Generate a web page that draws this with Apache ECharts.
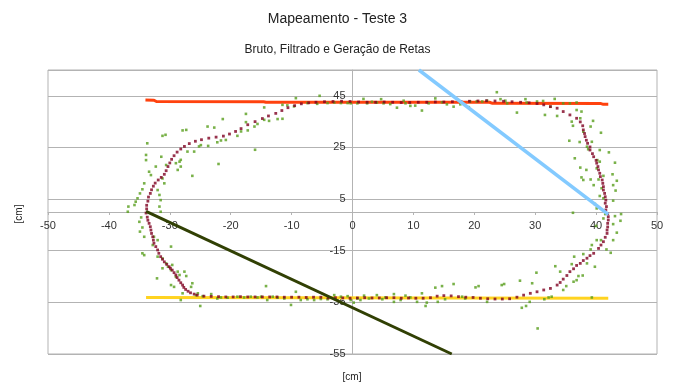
<!DOCTYPE html>
<html><head><meta charset="utf-8">
<script src="https://cdn.jsdelivr.net/npm/echarts@6/dist/echarts.min.js"></script>
<style>html,body{margin:0;padding:0;background:#fff}#c{width:675px;height:383px}</style>
</head><body><div id="c"></div>
<script>
const titleText = 'Mapeamento - Teste 3';
const subtitleText = 'Bruto, Filtrado e Geração de Retas';
const xAxisName = '[cm]';
const yAxisName = '[cm]';
const yTickValues = [-55, -35, -15, 5, 25, 45, 55];
const yLabelValues = [-55, -35, -15, 5, 25, 45];

// Linha superior (vermelha)
const redX = [-34.0, -32.6, -32.2, -14.6, -14.2, 22.5, 23.0, 40.8, 41.2, 42.0];
const redY = [43.4, 43.3, 42.8, 42.7, 42.5, 42.5, 42.1, 42.0, 41.7, 41.7];
// Linha inferior (amarela)
const yellowX = [-33.9, 42.0];
const yellowY = [-33.1, -33.4];
// Linha azul
const blueX = [10.9, 42.0];
const blueY = [55.0, -0.9];
// Linha verde escura
const oliveX = [-33.9, 16.3];
const oliveY = [0.2, -55.0];

// Filtrado
const filteredX = [
 -33.9,-33.8,-33.8,-33.6,-33.5,-33.2,-33.0,-32.7,-32.4,-31.9,-31.4,-30.9,-30.6,-30.3,-30.0,-29.7,-29.3,-28.8,-28.2,-27.6,-26.8,-25.8,-24.8,-23.6,-22.4,-21.2,-20.2,-19.2,-18.3,-17.2,-16.0,-14.8,-13.8,-12.6,-11.6,-10.6,-9.5,-8.4,-7.2,
 -6.0,-4.6,-3.2,-1.8,-0.4,1.0,2.4,3.8,5.2,6.6,8.0,9.4,10.8,12.2,13.6,15.0,16.4,17.8,19.2,20.6,22.0,23.4,24.8,26.2,27.6,29.0,
 30.3,31.4,32.5,33.6,34.6,35.7,36.8,37.4,37.8,37.9,38.1,38.2,38.4,38.6,39.0,39.0,39.4,39.6,40.0,40.1,40.3,40.4,40.6,40.7,41.0,41.1,41.2,41.2,41.4,41.5,41.6,41.5,41.7,41.6,41.9,42.0,42.0,41.9,41.9,41.8,41.8,41.5,41.2,40.8,40.4,39.6,39.0,38.5,37.9,37.4,36.8,36.3,35.7,35.2,34.6,34.1,33.6,32.5,31.4,30.3,29.2,28.1,27.0,
 25.8,24.6,23.4,22.2,21.0,19.8,18.6,17.4,16.2,15.0,13.9,12.8,11.6,10.4,9.2,8.0,6.8,5.6,4.4,3.2,2.0,0.8,-0.4,-1.6,-2.8,-4.0,-5.2,-6.4,-7.6,-8.8,-10.0,-11.2,-12.4,-13.6,-14.8,-16.0,-17.2,-18.4,-19.6,-20.8,-22.0,-23.2,-24.4,
 -25.5,-26.0,-26.6,-27.0,-27.4,-27.7,-27.9,-28.2,-28.5,-28.8,-29.0,-29.3,-29.6,-29.9,-30.1,-30.5,-30.9,-31.2,-31.5,-31.8,-32.0,-32.3,-32.6,-32.7,-32.8,-33.0,-33.1,-33.2,-33.4,-33.6,-33.7
];
const filteredY = [
 -0.4,1.2,2.6,4.2,5.8,7.2,8.6,10.0,11.2,12.4,13.4,14.6,16.0,17.6,19.0,20.4,21.8,23.2,24.4,25.4,26.5,27.4,28.0,28.6,29.0,29.4,30.2,31.2,32.3,33.8,35.0,36.2,37.2,38.2,39.3,40.4,41.2,41.9,42.3,
 42.5,42.7,42.8,42.9,42.8,42.6,42.5,42.5,42.6,42.5,42.4,42.4,42.5,42.5,42.6,42.6,42.7,42.8,42.9,43.0,43.1,43.0,42.9,42.7,42.5,42.3,
 42.0,41.5,40.8,40.2,38.9,37.6,36.3,34.9,33.4,31.8,30.4,29.2,27.8,26.6,25.2,24.0,22.6,21.4,20.0,18.9,17.6,16.3,15.0,13.7,12.4,11.1,9.8,8.5,7.2,5.9,4.6,3.4,2.1,0.8,-0.6,-1.8,-3.1,-4.4,-5.8,-7.0,-8.3,-9.8,-11.5,-12.8,-14.1,-16.0,-16.9,-17.9,-18.8,-19.9,-20.7,-22.0,-23.1,-24.6,-26.0,-27.3,-28.3,-29.6,-30.2,-30.9,-31.5,-32.2,-33.0,
 -33.6,-33.7,-33.7,-33.6,-33.4,-33.1,-33.0,-32.8,-32.5,-32.4,-32.6,-33.2,-33.4,-33.4,-33.3,-33.4,-33.2,-33.2,-33.3,-33.3,-33.2,-33.3,-33.4,-33.3,-33.2,-33.3,-33.0,-33.0,-33.1,-33.0,-33.0,-33.0,-32.9,-32.9,-32.9,-32.9,-32.9,-32.8,-32.9,-32.9,-32.8,-32.7,-32.6,
 -32.2,-31.8,-31.3,-30.7,-30.0,-29.2,-28.3,-27.4,-26.4,-25.4,-24.4,-23.5,-22.5,-21.8,-21.2,-20.3,-19.3,-18.3,-17.3,-16.0,-14.7,-13.4,-12.1,-10.9,-9.6,-8.3,-7.0,-5.7,-4.4,-3.2,-2.0
];

// Bruto
const rawPoints = [
 [-9.3,44.1],[-5.4,45.0],[-7.4,42.2],[-5.8,41.9],[-4.1,42.2],[-3.0,42.4],[-1.9,42.2],[-0.8,42.2],[-11.5,41.5],[-10.7,41.3],[-9.6,40.9],[-14.5,40.5],[-17.5,38.0],[-17.5,34.8],[-14.5,35.7],[-13.7,35.3],[-12.3,36.0],[-11.5,36.1],[-16.1,33.1],[-17.2,31.6],[-18.3,31.2],[-18.9,29.5],[-15.6,34.1],[-23.8,33.1],[-22.7,32.7],[-21.3,36.0],[-27.9,31.6],[-27.3,31.8],[-31.2,29.5],[-30.7,29.9],[-20.8,27.9],[-21.6,27.7],[-22.2,27.0],[-23.7,25.6],[-24.9,25.9],[-25.2,25.4],[-26.0,23.4],[-27.1,23.4],[-16.0,24.1],[-22.0,18.6],[-26.3,14.0],[-33.7,26.6],[-28.2,20.2],[-28.4,19.5],[-29.0,18.9],[-28.2,17.6],[-28.7,16.3],
 [-33.9,22.1],[-33.9,20.1],[-31.4,21.4],[-32.3,17.6],[-30.6,18.2],[-33.4,15.6],[-33.1,14.3],[-31.2,13.0],[-30.9,11.1],[-34.2,11.1],[-34.5,8.8],[-34.9,7.2],[-35.3,5.3],[-35.6,4.0],[-35.8,2.7],[-36.8,2.1],[-36.9,0.1],[-32.0,8.5],[-31.7,6.6],[-31.5,4.6],[-31.7,2.1],[-31.5,0.1],[-34.7,-2.1],[-35.0,-3.8],[-34.5,-6.0],[-34.9,-7.6],[-34.2,-9.6],[-32.6,-9.6],[-32.0,-10.9],[-32.8,-12.8],[-34.5,-16.0],[-34.2,-16.7],[-29.8,-13.4],[-32.0,-17.3],[-31.2,-18.0],[-30.6,-19.9],[-29.6,-20.5],[-29.8,-22.5],[-28.7,-23.1],
 [-32.1,-25.7],[-31.2,-21.8],[-30.3,-21.2],[-29.8,-28.3],[-29.3,-29.0],[-29.0,-25.1],[-28.4,-24.4],[-27.9,-31.5],[-27.6,-23.1],[-27.3,-24.8],[-28.2,-34.1],[-26.5,-29.0],[-26.3,-27.6],[-25.7,-32.2],[-25.4,-31.5],[-25.0,-36.4],[-24.6,-32.6],[-23.2,-31.8],[-22.2,-33.5],[-21.6,-33.1],[-20.5,-33.2],[-18.9,-32.8],[-17.8,-33.1],[-16.7,-32.8],[-15.6,-33.1],[-15.0,-32.8],[-14.2,-28.7],[-14.0,-34.1],[-13.1,-32.8],[-12.3,-33.2],[-11.2,-33.5],[-10.1,-36.0],[-9.3,-30.9],[-8.5,-34.1],[-7.4,-33.8],[-6.3,-34.1],[-5.2,-33.7],[-4.1,-33.8],[-3.0,-32.2],[-1.9,-32.8],[-0.8,-32.6],
 [-0.3,42.1],[0.8,42.1],[1.8,43.8],[2.4,42.1],[3.2,42.7],[4.0,42.4],[4.7,43.7],[5.1,42.1],[6.2,41.8],[7.3,40.4],[8.4,43.1],[8.7,42.1],[9.5,41.1],[10.3,41.2],[11.4,39.3],[12.5,42.1],[13.6,44.0],[14.7,42.5],[15.5,41.7],[16.6,40.8],[17.7,41.7],[19.1,40.6],[19.3,42.8],[20.4,42.8],[21.3,42.8],[22.1,43.1],[23.7,46.4],[24.3,43.7],[25.1,43.1],[25.4,42.1],[27.0,38.5],[28.4,43.7],[28.6,42.4],[30.3,42.8],[31.3,43.0],[31.6,37.6],[32.5,40.8],[33.2,43.8],[33.6,37.2],[34.6,42.1],[35.7,42.1],[36.8,42.4],[36.8,39.5],[37.6,38.9],[36.0,35.0],[36.2,33.4],[37.4,36.3],[37.9,31.1],[39.1,33.1],[39.5,35.3],[40.8,30.7],[35.6,27.6],[37.3,27.1],[39.3,27.2],[38.5,25.3],[38.7,24.3],[40.6,24.0],[42.1,23.1],[40.2,20.1],[40.6,19.5],[36.5,20.8],[37.4,17.2],[38.4,16.3],[40.1,16.9],[43.1,19.1],[41.2,14.0],[40.4,12.6],[39.1,12.6],[39.6,10.4],[42.7,14.6],[43.4,12.1],[42.8,10.4],[37.6,13.4],[37.9,12.4],[40.9,9.2],[43.2,8.3],[40.6,6.2],[42.8,4.4],[41.2,5.3],[39.8,3.1],[40.1,1.4],[36.2,-0.3],[41.5,-0.8],[43.1,-1.6],[44.1,-0.8],
 [-0.3,-34.1],[0.2,-35.1],[0.8,-33.5],[1.3,-34.1],[1.9,-32.4],[2.7,-33.5],[4.0,-32.2],[4.9,-33.8],[5.4,-33.1],[6.8,-31.8],[6.8,-34.8],[7.9,-34.1],[8.7,-32.4],[9.5,-33.1],[10.6,-34.8],[11.4,-31.5],[12.0,-36.4],[12.2,-35.1],[13.6,-29.3],[14.0,-34.8],[14.7,-28.7],[15.2,-33.8],[16.6,-27.9],[18.0,-32.8],[18.5,-33.5],[20.2,-29.2],[20.7,-28.7],[22.1,-34.8],[24.5,-28.3],[24.9,-27.9],[27.5,-26.6],[27.8,-37.1],[28.5,-36.4],[29.1,-34.8],[29.5,-27.6],[30.2,-23.5],[30.4,-45.1],[31.5,-33.8],[32.2,-33.1],[32.7,-32.8],[33.3,-21.0],[34.1,-23.1],[34.6,-30.2],[35.1,-28.7],[36.0,-20.2],[36.3,-27.0],[36.8,-26.4],[37.1,-24.8],[37.8,-24.6],[36.4,-17.3],[37.9,-16.3],[38.5,-19.9],[39.1,-14.5],[39.3,-12.8],[39.8,-21.2],[40.1,-10.9],[39.3,-33.1],[40.0,-5.4],[40.8,-10.9],[41.2,-2.5],[41.7,-14.5],[42.4,-15.8],[42.8,-10.9],[43.4,-8.0],[42.8,-4.7],[44.0,-3.4]
];

const FONT = '"Liberation Sans", Arial, sans-serif';
const pairs = (xs, ys) => xs.map((x, i) => [x, ys[i]]);

// grid geometry
const G = {left: 48, right: 18, top: 70, bottom: 29};
const W = 675, H = 383;
const X_MIN = -50, X_MAX = 50, Y_MIN = -55, Y_MAX = 55;
const plotW = W - G.left - G.right, plotH = H - G.top - G.bottom;
// shift axes so they cross at (0,0), labels included
const xAxisOffset = -plotH * (0 - Y_MIN) / (Y_MAX - Y_MIN);
const yAxisOffset = -plotW * (0 - X_MIN) / (X_MAX - X_MIN);

const chart = echarts.init(document.getElementById('c'), null, {renderer: 'canvas'});
chart.setOption({
  animation: false,
  backgroundColor: '#ffffff',
  textStyle: {fontFamily: FONT},
  title: [
    {text: titleText, left: 'center', top: 12, padding: 0,
     textStyle: {fontSize: 14, fontWeight: 'normal', color: '#222', fontFamily: FONT}},
    {text: subtitleText, left: 'center', top: 44, padding: 0,
     textStyle: {fontSize: 12, fontWeight: 'normal', color: '#222', fontFamily: FONT}}
  ],
  graphic: [
    {type: 'text', x: 19, y: 214, rotation: Math.PI / 2,
     style: {text: yAxisName, fontSize: 10, fill: '#222', fontFamily: FONT, textAlign: 'center', textVerticalAlign: 'middle'}},
    {type: 'text', x: 352, y: 377,
     style: {text: xAxisName, fontSize: 10, fill: '#222', fontFamily: FONT, textAlign: 'center', textVerticalAlign: 'middle'}}
  ],
  grid: {left: G.left, right: G.right, top: G.top, bottom: G.bottom, show: true, borderColor: '#b3b3b3', borderWidth: 1,
         containLabel: false, outerBoundsMode: 'none'},
  xAxis: {
    type: 'value', min: X_MIN, max: X_MAX, interval: 10, position: 'bottom', offset: xAxisOffset,
    axisLine: {onZero: false, lineStyle: {color: '#b3b3b3', width: 1}},
    axisTick: {show: true, length: 3, lineStyle: {color: '#b3b3b3'}},
    axisLabel: {color: '#333', fontSize: 11, margin: 8, fontFamily: FONT},
    splitLine: {show: false}
  },
  yAxis: {
    type: 'value', min: Y_MIN, max: Y_MAX, position: 'left', offset: yAxisOffset,
    axisLine: {onZero: false, lineStyle: {color: '#b3b3b3', width: 1}},
    axisTick: {show: false, customValues: yTickValues},
    axisLabel: {color: '#333', fontSize: 11, margin: 7, fontFamily: FONT, customValues: yLabelValues},
    splitLine: {show: true, lineStyle: {color: '#b3b3b3', width: 1}}
  },
  series: [
    {name: 'Reta 1', type: 'line', data: pairs(redX, redY), symbol: 'none', silent: true,
     lineStyle: {color: '#ff420e', width: 3}, z: 2},
    {name: 'Reta 2', type: 'line', data: pairs(yellowX, yellowY), symbol: 'none', silent: true,
     lineStyle: {color: '#ffd320', width: 3}, z: 3},
    {name: 'Bruto', type: 'scatter', data: rawPoints, symbol: 'rect', symbolSize: 2.6, silent: true,
     itemStyle: {color: '#579d1c'}, z: 4},
    {name: 'Filtrado', type: 'scatter', data: pairs(filteredX, filteredY), symbol: 'rect', symbolSize: 2.8, silent: true,
     itemStyle: {color: '#7e0021'}, z: 5},
    {name: 'Reta 3', type: 'line', data: pairs(blueX, blueY), symbol: 'none', silent: true,
     lineStyle: {color: '#83caff', width: 3.5}, z: 6},
    {name: 'Reta 4', type: 'line', data: pairs(oliveX, oliveY), symbol: 'none', silent: true,
     lineStyle: {color: '#314004', width: 3}, z: 7}
  ]
});
</script>
</body></html>
